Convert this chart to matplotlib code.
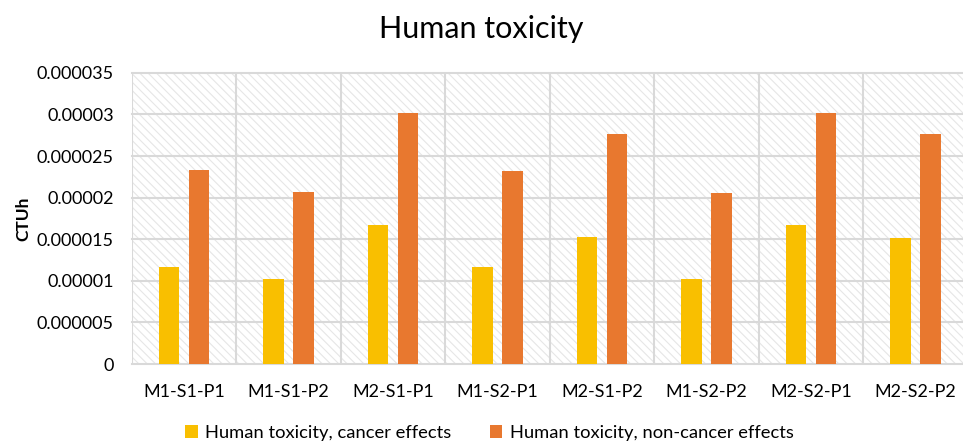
import numpy as np
import matplotlib.pyplot as plt
from matplotlib.patches import Rectangle

# =========================
# Data
# =========================

CATEGORIES = ["M1-S1-P1", "M1-S1-P2", "M2-S1-P1", "M1-S2-P1",
              "M2-S1-P2", "M1-S2-P2", "M2-S2-P1", "M2-S2-P2"]

CANCER = [11.7e-6, 10.2e-6, 16.7e-6, 11.7e-6, 15.3e-6, 10.2e-6, 16.7e-6, 15.2e-6]
NON_CANCER = [23.3e-6, 20.7e-6, 30.2e-6, 23.2e-6, 27.7e-6, 20.6e-6, 30.2e-6, 27.6e-6]

SERIES_NAMES = ["Human toxicity, cancer effects",
                "Human toxicity, non-cancer effects"]

Y_TICKS = [0, 0.000005, 0.00001, 0.000015, 0.00002, 0.000025, 0.00003, 0.000035]
Y_TICK_LABELS = ["0", "0.000005", "0.00001", "0.000015", "0.00002",
                 "0.000025", "0.00003", "0.000035"]

# =========================
# Style
# =========================

plt.rcParams["font.family"] = ["Lato", "DejaVu Sans"]
plt.rcParams["hatch.linewidth"] = 0.8

YELLOW = "#F9BF00"
ORANGE = "#E8782F"
GRID = "#D9D9D9"

fig = plt.figure(figsize=(9.63, 4.44), dpi=100)
ax = fig.add_axes([0.137, 0.180, 0.868, 0.656])

x = np.arange(len(CATEGORIES))
width = 0.196
offset = 0.143

ax.set_xlim(-0.5, len(CATEGORIES) - 0.5)
ax.set_ylim(0, 0.000035)

# hatched background
bg = Rectangle((0, 0), 1, 1, transform=ax.transAxes, facecolor="white",
               edgecolor="#E6E6E6", hatch="\\\\\\\\", linewidth=0, zorder=0)
ax.add_patch(bg)

# gridlines
for yv in Y_TICKS:
    ax.axhline(yv, color=GRID, linewidth=1.5, zorder=1, clip_on=False)
for i in range(len(CATEGORIES) + 1):
    ax.axvline(i - 0.5, color=GRID, linewidth=1.5, zorder=1)

ax.bar(x - offset, CANCER, width, color=YELLOW, zorder=3, label=SERIES_NAMES[0])
ax.bar(x + offset, NON_CANCER, width, color=ORANGE, zorder=3, label=SERIES_NAMES[1])

ax.set_xticks(x)
ax.set_xticklabels(CATEGORIES, fontsize=13)
ax.set_yticks(Y_TICKS)
ax.set_yticklabels(Y_TICK_LABELS, fontsize=13)
ax.tick_params(length=0, pad=14)
ax.tick_params(axis="y", pad=13)

for s in ax.spines.values():
    s.set_visible(False)

ax.set_ylabel("CTUh", fontsize=12.5, fontweight="bold", labelpad=4)

fig.text(0.5, 0.935, "Human toxicity", ha="center", va="center", fontsize=22)

fig.legend(loc="center", bbox_to_anchor=(0.508, 0.025), ncol=2, frameon=False,
           fontsize=13.2, handlelength=0.7, handleheight=0.7,
           handletextpad=0.4, columnspacing=2.1)

plt.savefig("out.png", dpi=100)
